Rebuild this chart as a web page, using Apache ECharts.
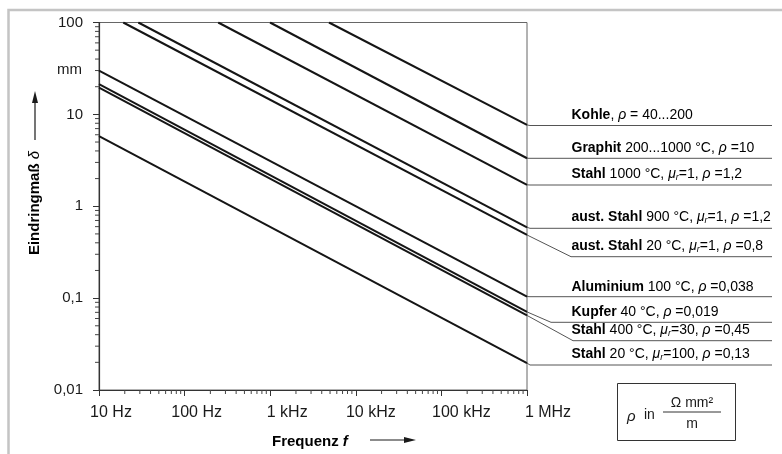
<!DOCTYPE html>
<html><head><meta charset="utf-8">
<script src="https://cdn.jsdelivr.net/npm/echarts@6/dist/echarts.min.js"></script>
<style>html,body{margin:0;padding:0;background:#fff}#c{width:782px;height:454px}</style>
</head><body><div id="c"></div>
<script>
// ---- data ----
const materials = ['Kohle','Graphit','Stahl','aust. Stahl','aust. Stahl','Aluminium','Kupfer','Stahl','Stahl'];
const params = [', ρ = 40...200',' 200...1000 °C, ρ =10',' 1000 °C, μr=1, ρ =1,2',' 900 °C, μr=1, ρ =1,2',' 20 °C, μr=1, ρ =0,8',' 100 °C, ρ =0,038',' 40 °C, ρ =0,019',' 400 °C, μr=30, ρ =0,45',' 20 °C, μr=100, ρ =0,13'];
const startFreq = [4860, 995, 247, 28.8, 19.2, 10, 10, 10, 10];
const startDepth = [100, 100, 100, 100, 100, 29.9, 21.3, 19.6, 5.8];
const endFreq = [1e6, 1e6, 1e6, 1e6, 1e6, 1e6, 1e6, 1e6, 1e6];
const endDepth = [7.67, 3.33, 1.71, 0.59, 0.487, 0.104, 0.0708, 0.0648, 0.0196];
const xTicks = [10, 100, 1000, 1e4, 1e5, 1e6];
const xTickLabels = ['10 Hz','100 Hz','1 kHz','10 kHz','100 kHz','1 MHz'];
const yTicks = [0.01, 0.1, 1, 10, 100];
const yTickLabels = ['0,01','0,1','1','10','100'];
const xMinorTicks = [];
for (let d = 1; d < 6; d++) for (let k = 2; k <= 9; k++) xMinorTicks.push(k * Math.pow(10, d));
const yMinorTicks = [];
for (let d = -2; d < 2; d++) for (let k = 2; k <= 9; k++) yMinorTicks.push(k * Math.pow(10, d));

// ---- layout (pixels) ----
const labelLineY = [125.5, 158.3, 185, 228.3, 256.7, 296.7, 322.3, 340.7, 365];
const labelKneeX = [530, 530, 530, 530, 571, 530, 551, 573, 530];
const xLabelShift = [12, 12, 17, 15, 20, 21];
const FONT = 'Liberation Sans, Arial, sans-serif';
const INK = '#1a1a1a';

function richParams(s) {
  let out = '', buf = '';
  const flush = () => { if (buf) { out += '{n|' + buf + '}'; buf = ''; } };
  for (let i = 0; i < s.length; i++) {
    if (s[i] === 'ρ') { flush(); out += '{i|ρ}'; }
    else if (s[i] === 'μ' && s[i + 1] === 'r') { flush(); out += '{i|μ}{s|r}'; i++; }
    else buf += s[i];
  }
  flush();
  return out;
}
const labelRich = {
  b: { fontFamily: FONT, fontSize: 14, fontWeight: 'bold', color: INK },
  n: { fontFamily: FONT, fontSize: 14, color: INK },
  i: { fontFamily: FONT, fontSize: 14, fontStyle: 'italic', color: INK },
  s: { fontFamily: FONT, fontSize: 9, fontStyle: 'italic', color: INK, padding: [7, 0, 0, 0] }
};

const chart = echarts.init(document.getElementById('c'), null, { renderer: 'canvas' });

const xRich = {};
xTickLabels.forEach((t, i) => {
  xRich['l' + i] = { fontFamily: FONT, fontSize: 16, color: INK, padding: [0, 0, 0, 2 * xLabelShift[i]] };
});

const series = materials.map((m, i) => ({
  type: 'line',
  name: m + params[i],
  data: [[startFreq[i], startDepth[i]], [endFreq[i], endDepth[i]]],
  showSymbol: false,
  symbol: 'none',
  lineStyle: { color: '#151515', width: 2 },
  silent: true,
  z: 3
}));
series.push({
  type: 'custom',
  data: xMinorTicks.map(v => [v, 0.01]),
  renderItem: (p, api) => {
    const c = api.coord([api.value(0), api.value(1)]);
    return { type: 'line', shape: { x1: c[0], y1: c[1], x2: c[0], y2: c[1] + 4 }, style: { stroke: '#444', lineWidth: 1 } };
  },
  silent: true, z: 2
});
series.push({
  type: 'custom',
  data: yMinorTicks.map(v => [10, v]),
  renderItem: (p, api) => {
    const c = api.coord([api.value(0), api.value(1)]);
    return { type: 'line', shape: { x1: c[0], y1: c[1], x2: c[0] - 4, y2: c[1] }, style: { stroke: '#444', lineWidth: 1 } };
  },
  silent: true, z: 2
});

chart.setOption({
  animation: false,
  backgroundColor: '#fff',
  grid: { left: 99, right: 255, top: 22.5, bottom: 64, containLabel: false, outerBoundsMode: 'none',
          show: true, borderColor: '#666', borderWidth: 1 },
  xAxis: {
    type: 'log', logBase: 10, min: 10, max: 1e6,
    axisLine: { show: true, lineStyle: { color: '#333', width: 1.2 } },
    axisTick: { show: true, length: 6, inside: false, lineStyle: { color: '#333' } },
    minorTick: { show: false },
    splitLine: { show: false },
    axisLabel: {
      margin: 15, fontFamily: FONT, fontSize: 16, color: INK,
      formatter: (v) => {
        const e = Math.round(Math.log10(v));
        const i = xTicks.findIndex(t => Math.round(Math.log10(t)) === e);
        return i < 0 ? '' : '{l' + i + '|' + xTickLabels[i] + '}';
      },
      rich: xRich
    }
  },
  yAxis: {
    type: 'log', logBase: 10, min: 0.01, max: 100,
    axisLine: { show: true, lineStyle: { color: '#333', width: 1.2 } },
    axisTick: { show: true, length: 6, inside: false, lineStyle: { color: '#333' } },
    minorTick: { show: false },
    splitLine: { show: false },
    axisLabel: {
      margin: 16, fontFamily: FONT, fontSize: 15, color: INK,
      formatter: (v) => {
        const e = Math.round(Math.log10(v));
        const i = yTicks.findIndex(t => Math.round(Math.log10(t)) === e);
        return i < 0 ? '' : yTickLabels[i];
      }
    }
  },
  series: series
});

// ---- annotations: label leader lines and texts ----
const g = [];
// outer frame
g.push({ type: 'polyline', shape: { points: [[8.5, 454], [8.5, 10], [782, 10]] }, style: { stroke: '#c4c4c4', lineWidth: 2.5, fill: null }, silent: true });
materials.forEach((m, i) => {
  const p = chart.convertToPixel({ gridIndex: 0 }, [endFreq[i], endDepth[i]]);
  g.push({ type: 'polyline', shape: { points: [p, [labelKneeX[i], labelLineY[i]], [772, labelLineY[i]]] },
           style: { stroke: '#555', lineWidth: 1, fill: null }, silent: true, z: 5 });
  g.push({ type: 'text', x: 571.5, y: labelLineY[i] - 3,
           style: { text: '{b|' + m + '}' + richParams(params[i]), rich: labelRich, align: 'left', verticalAlign: 'bottom' }, silent: true, z: 6 });
});
// "mm" unit
g.push({ type: 'text', x: 82, y: 70, style: { text: 'mm', fontFamily: FONT, fontSize: 15, fill: INK, align: 'right', verticalAlign: 'middle' }, silent: true });
// y axis title
g.push({ type: 'text', x: 35, y: 203, rotation: Math.PI / 2,
         style: { text: '{b|Eindringmaß }{bi|δ}', align: 'center', verticalAlign: 'middle',
                  rich: { b: { fontFamily: FONT, fontSize: 15, fontWeight: 'bold', color: INK },
                          bi: { fontFamily: FONT, fontSize: 15, fontStyle: 'italic', color: INK } } }, silent: true });
g.push({ type: 'line', shape: { x1: 35, y1: 140, x2: 35, y2: 100 }, style: { stroke: INK, lineWidth: 1.2 }, silent: true });
g.push({ type: 'polygon', shape: { points: [[35, 91], [32, 103], [38, 103]] }, style: { fill: INK }, silent: true });
// x axis title
g.push({ type: 'text', x: 272, y: 442,
         style: { text: '{b|Frequenz }{bi|f}', align: 'left', verticalAlign: 'middle',
                  rich: { b: { fontFamily: FONT, fontSize: 15, fontWeight: 'bold', color: INK },
                          bi: { fontFamily: FONT, fontSize: 15, fontWeight: 'bold', fontStyle: 'italic', color: INK } } }, silent: true });
g.push({ type: 'line', shape: { x1: 370, y1: 440, x2: 406, y2: 440 }, style: { stroke: INK, lineWidth: 1.2 }, silent: true });
g.push({ type: 'polygon', shape: { points: [[416, 440], [404, 437], [404, 443]] }, style: { fill: INK }, silent: true });
// unit box
g.push({ type: 'rect', shape: { x: 617.5, y: 383.5, width: 118, height: 57 }, style: { stroke: '#333', lineWidth: 1, fill: null }, silent: true });
g.push({ type: 'text', x: 627, y: 417, style: { text: 'ρ', fontFamily: FONT, fontSize: 15, fontStyle: 'italic', fill: INK, align: 'left', verticalAlign: 'middle' }, silent: true });
g.push({ type: 'text', x: 644, y: 415, style: { text: 'in', fontFamily: FONT, fontSize: 14, fill: INK, align: 'left', verticalAlign: 'middle' }, silent: true });
g.push({ type: 'line', shape: { x1: 663, y1: 412, x2: 721, y2: 412 }, style: { stroke: '#333', lineWidth: 1 }, silent: true });
g.push({ type: 'text', x: 692, y: 403, style: { text: 'Ω mm²', fontFamily: FONT, fontSize: 14, fill: INK, align: 'center', verticalAlign: 'middle' }, silent: true });
g.push({ type: 'text', x: 692, y: 424, style: { text: 'm', fontFamily: FONT, fontSize: 14, fill: INK, align: 'center', verticalAlign: 'middle' }, silent: true });

chart.setOption({ graphic: g });
</script>
</body></html>
